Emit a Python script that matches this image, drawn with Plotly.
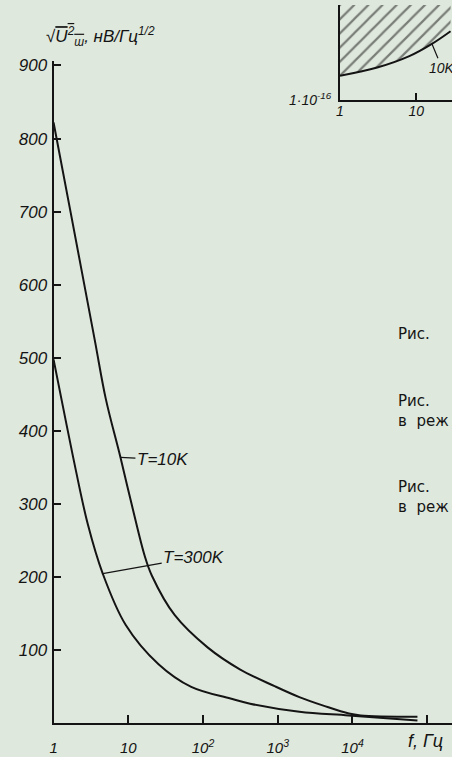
import math
import plotly.graph_objects as go

W, H = 452, 757

# ---------------- data ----------------
# main chart: noise spectral density vs frequency
f_10k = [1, 1.7, 3.55, 5.0, 7.85, 11.2, 16.6, 20.7, 41.9, 115, 311, 907,
         1945, 4170, 8950, 12900, 74000]
u_10k = [822, 698, 525, 444, 364, 298, 229, 202, 148, 104, 74, 51,
         36, 24, 13.5, 11, 9]

f_300k = [1, 1.35, 1.83, 2.88, 4.55, 9.2, 25.4, 69.5, 233, 427, 1950, 8910, 74000]
u_300k = [498, 431, 364, 272, 205, 135, 81, 50, 34, 27, 16, 11, 4]

x_tickvals = [1, 10, 100, 1000, 10000, 100000]
x_ticktext = ["1", "10", "10<sup>2</sup>", "10<sup>3</sup>", "10<sup>4</sup>", ""]
y_tickvals = [100, 200, 300, 400, 500, 600, 700, 800, 900]
y_ticktext = [str(v) for v in y_tickvals]

# label anchor points on curves
lab10_f, lab10_u = 7.85, 364
lab300_f, lab300_u = 4.55, 205

# inset: hatched region above the 10 K curve
inset_f = [1, 3.07, 8.1, 16.0, 28.1]
inset_v = [1.8e-16, 2.2e-16, 2.9e-16, 3.9e-16, 5.3e-16]
inset_top = 1.0e-15
inset_lab_f, inset_lab_v = 16.0, 3.9e-16

INK = "#141414"
BG = "#dfe8dc"
ITAL = dict(family="Liberation Sans", size=15, color=INK, style="italic")


def px(x, y):
    return x / W, 1 - y / H


fig = go.Figure()

line_style = dict(color=INK, width=2, shape="spline", smoothing=1.0)
fig.add_trace(go.Scatter(x=f_10k, y=u_10k, mode="lines", line=line_style,
                         xaxis="x", yaxis="y", showlegend=False, hoverinfo="skip"))
fig.add_trace(go.Scatter(x=f_300k, y=u_300k, mode="lines", line=line_style,
                         xaxis="x", yaxis="y", showlegend=False, hoverinfo="skip"))

# inset hatch
fig.add_trace(go.Scatter(x=inset_f + [inset_f[-1], inset_f[0]],
                         y=inset_v + [inset_top, inset_top],
                         mode="lines", fill="toself",
                         fillcolor="rgba(0,0,0,0)",
                         fillpattern=dict(shape="/", size=10, solidity=0.22,
                                          fgcolor=INK, bgcolor="rgba(0,0,0,0)"),
                         line=dict(width=0, color="rgba(0,0,0,0)"),
                         xaxis="x2", yaxis="y2", showlegend=False, hoverinfo="skip"))
fig.add_trace(go.Scatter(x=inset_f, y=inset_v, mode="lines",
                         line=dict(color=INK, width=2, shape="spline"),
                         xaxis="x2", yaxis="y2", showlegend=False, hoverinfo="skip"))

axis_common = dict(showgrid=False, zeroline=False, showline=True, linecolor=INK,
                   linewidth=2, tickcolor=INK, tickwidth=1.5)

fig.update_layout(
    width=W, height=H,
    margin=dict(l=0, r=0, t=0, b=0),
    paper_bgcolor=BG, plot_bgcolor="rgba(0,0,0,0)",
    xaxis=dict(type="log", domain=[50 / W, 1], range=[0, 402 / 75.4],
               tickvals=x_tickvals, ticktext=x_ticktext, ticks="inside", ticklen=8,
               tickfont=dict(ITAL, size=15), ticklabelstandoff=10, anchor="y",
               **axis_common),
    yaxis=dict(domain=[27 / H, 700 / H], range=[0, 906],
               tickvals=y_tickvals, ticktext=y_ticktext, ticks="inside", ticklen=7,
               tickfont=dict(ITAL, size=17), ticklabelstandoff=1, anchor="x",
               **axis_common),
    xaxis2=dict(type="log", domain=[339 / W, 1], range=[0, 113 / 77],
                tickvals=[1, 10], ticktext=["1", "10"], ticks="inside", ticklen=7,
                tickfont=dict(ITAL, size=14), ticklabelstandoff=-3, anchor="y2",
                **axis_common),
    yaxis2=dict(type="log", domain=[(H - 97) / H, 1], range=[-16.005, -15],
                tickvals=[1e-16], ticktext=["1·10<sup>-16</sup>"], ticks="",
                tickfont=dict(ITAL, size=14), ticklabelstandoff=4, anchor="x2",
                **axis_common),
)

ann = []
# y axis title
tx, ty = px(40, 32)
ann.append(dict(x=tx, y=ty, xref="paper", yref="paper", xanchor="left", yanchor="middle",
                showarrow=False, font=dict(ITAL, size=17),
                text="√<span style='text-decoration:overline'>U<sup>2</sup><sub>ш</sub></span>, нВ/Гц<sup>1/2</sup>"))
# x axis title
tx, ty = px(406, 748)
ann.append(dict(x=tx, y=ty, xref="paper", yref="paper", xanchor="left", yanchor="middle",
                showarrow=False, font=dict(ITAL, size=18), text="f, Гц"))
# curve labels
ann.append(dict(x=math.log10(lab10_f), y=lab10_u, xref="x", yref="y",
                text="T=10K", font=dict(ITAL, size=17), showarrow=True, arrowhead=0,
                arrowwidth=1.2, arrowcolor=INK, standoff=0, ax=42, ay=2))
ann.append(dict(x=math.log10(lab300_f), y=lab300_u, xref="x", yref="y",
                text="T=300K", font=dict(ITAL, size=17), showarrow=True, arrowhead=0,
                arrowwidth=1.2, arrowcolor=INK, standoff=0, ax=91, ay=-16))
# inset label
ann.append(dict(x=math.log10(inset_lab_f), y=math.log10(inset_lab_v), xref="x2", yref="y2",
                text="10K", font=dict(ITAL, size=14), showarrow=True, arrowhead=0,
                arrowwidth=1.2, arrowcolor=INK, standoff=0, ax=10, ay=24))
# right-hand page text
RT = dict(family="DejaVu Sans", size=15, color=INK)
for (x, y, t) in [(396, 334, "Рис."), (396, 413, "Рис.<br>в\u00a0\u00a0реж"),
                  (396, 500, "Рис.<br>в\u00a0\u00a0реж")]:
    tx, ty = px(x, y)
    ann.append(dict(x=tx, y=ty, xref="paper", yref="paper", xanchor="left",
                    yanchor="middle", align="left", showarrow=False, font=RT, text=t))

fig.update_layout(annotations=ann)
fig.write_html("out.html")
